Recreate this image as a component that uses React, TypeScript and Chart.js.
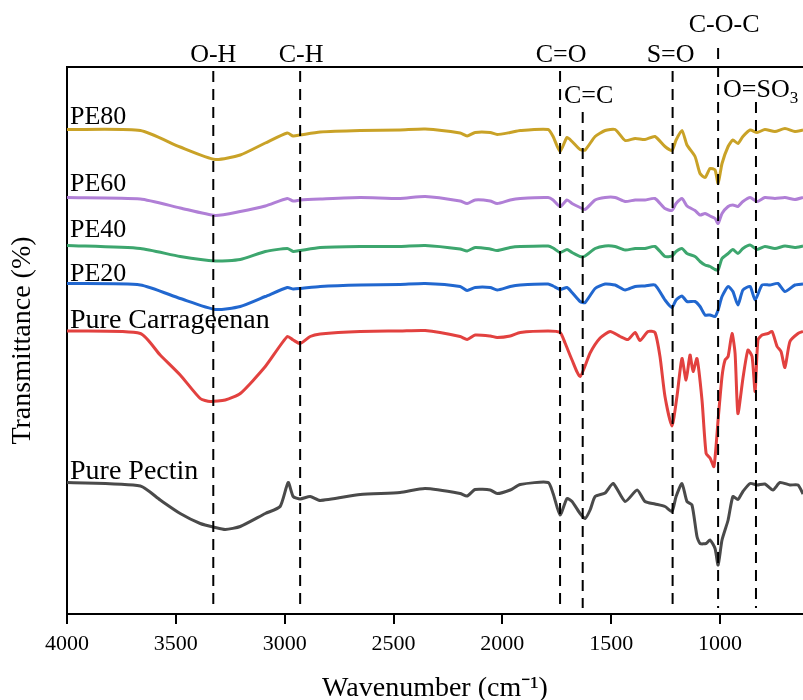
import React, { useEffect, useRef } from "react";
import { Chart, registerables } from "chart.js";

Chart.register(...registerables);

const SERIF = '"Liberation Serif", "Times New Roman", Times, serif';

// ---- data ----
const seriesNames = ["PE80", "PE60", "PE40", "PE20", "Pure Carrageenan", "Pure Pectin"];
const seriesColors = ["#C9A227", "#B07FD6", "#3DA66E", "#2167CF", "#E2413F", "#4A4A4A"];

const commonWavenumber = [
  4000, 3663, 3480, 3319, 3204, 3089, 2988, 2961, 2929, 2837, 2653, 2470, 2355, 2194, 2162, 2125,
  2056, 2024, 1964, 1918, 1790, 1767, 1735, 1703, 1680, 1643, 1620, 1574, 1528, 1482, 1436, 1390,
  1345, 1299, 1253, 1221, 1202, 1175, 1152, 1115, 1092, 1069, 1046, 1023, 1009, 991, 963, 941, 918,
  895, 862, 830, 794, 748, 702, 656, 619,
];

const pe80 = [
  96.9, 96.7, 93.4, 90.9, 91.8, 94.2, 96.2, 95.6, 95.8, 96.4, 96.7, 96.8, 97.0, 96.2, 95.6, 96.3,
  96.3, 95.9, 96.3, 96.7, 96.9, 95.5, 92.5, 95.3, 94.5, 92.9, 92.8, 95.5, 96.7, 96.9, 94.7, 95.1,
  94.9, 95.5, 93.5, 92.7, 94.8, 96.7, 93.8, 91.5, 88.1, 87.3, 89.1, 88.8, 86.1, 90.1, 93.5, 94.8,
  94.1, 95.5, 96.8, 96.3, 96.9, 96.5, 97.1, 96.5, 96.8,
];

const pe60 = [
  83.3, 83.0, 81.2, 79.7, 80.5, 81.6, 83.1, 82.6, 82.8, 83.0, 83.3, 83.1, 83.5, 82.6, 82.1, 82.8,
  82.6, 82.1, 82.8, 83.1, 83.3, 82.8, 81.5, 82.8, 82.1, 81.3, 80.9, 82.8, 83.3, 83.3, 82.5, 82.8,
  82.8, 83.1, 81.1, 80.7, 82.1, 83.1, 81.6, 80.7, 79.8, 80.1, 79.6, 79.1, 78.1, 80.1, 81.5, 81.8,
  81.5, 82.5, 83.3, 82.5, 83.3, 83.1, 83.3, 82.9, 83.3,
];

const pe40 = [
  73.7, 73.1, 71.5, 70.6, 70.9, 72.5, 73.1, 72.5, 72.7, 73.3, 73.5, 73.5, 73.7, 73.0, 72.6, 73.3,
  73.0, 72.7, 73.3, 73.5, 73.6, 73.2, 72.3, 72.9, 72.3, 71.5, 71.6, 73.1, 73.6, 73.5, 72.8, 73.1,
  73.1, 73.5, 71.5, 71.6, 72.5, 73.1, 72.1, 71.5, 70.5, 69.8, 69.5, 68.9, 68.8, 71.1, 72.1, 72.9,
  72.1, 73.1, 73.8, 72.9, 73.5, 73.1, 73.6, 73.3, 73.6,
];

const pe20Wavenumber = [
  4000, 3663, 3480, 3319, 3204, 3089, 2988, 2961, 2929, 2837, 2653, 2470, 2355, 2194, 2162, 2125,
  2056, 2024, 1964, 1918, 1790, 1767, 1735, 1703, 1680, 1643, 1620, 1574, 1528, 1482, 1436, 1390,
  1345, 1299, 1253, 1221, 1202, 1175, 1152, 1115, 1092, 1069, 1046, 1023, 1009, 991, 963, 941, 918,
  895, 862, 839, 807, 771, 734, 702, 656, 619,
];
const pe20 = [
  66.1, 65.8, 63.1, 60.9, 61.5, 63.5, 65.3, 65.0, 65.1, 65.5, 65.8, 65.9, 66.1, 65.5, 64.7, 65.3,
  65.3, 64.8, 65.5, 65.8, 66.0, 65.6, 64.9, 65.3, 64.3, 62.5, 62.3, 65.1, 66.0, 65.8, 64.8, 65.5,
  65.6, 65.8, 62.8, 61.3, 62.8, 63.6, 62.5, 62.5, 61.5, 59.8, 59.8, 59.5, 60.8, 63.5, 65.5, 64.5,
  61.8, 64.8, 65.5, 62.8, 65.8, 65.8, 66.1, 64.5, 65.8, 66.0,
];

const carrageenanWavenumber = [
  4000, 3663, 3572, 3480, 3388, 3342, 3273, 3204, 3089, 2988, 2961, 2929, 2883, 2837, 2653, 2470,
  2355, 2194, 2162, 2125, 2056, 2024, 1964, 1918, 1790, 1735, 1712, 1680, 1643, 1597, 1551, 1505,
  1459, 1423, 1390, 1368, 1331, 1299, 1276, 1253, 1221, 1198, 1175, 1156, 1138, 1124, 1106, 1083,
  1064, 1046, 1028, 1009, 991, 977, 963, 945, 931, 918, 895, 872, 853, 839, 826, 807, 780, 761, 738,
  720, 702, 679, 642, 619,
];
const carrageenan = [
  56.6, 56.1, 51.8, 47.8, 43.1, 42.5, 42.8, 44.1, 49.5, 55.5, 54.8, 54.1, 55.5, 56.0, 56.5, 56.6,
  56.7, 55.5, 54.9, 55.8, 55.6, 55.3, 55.6, 56.3, 56.6, 56.3, 54.2, 50.8, 47.5, 52.2, 55.2, 56.5,
  55.5, 54.9, 56.3, 54.7, 56.5, 56.3, 51.5, 43.5, 37.6, 43.5, 51.1, 46.8, 51.8, 48.5, 51.1, 42.8,
  32.1, 31.2, 29.5, 38.8, 47.5, 50.8, 51.5, 56.1, 52.1, 40.1, 47.1, 52.8, 51.5, 44.5, 54.8, 55.8,
  56.1, 56.5, 53.5, 52.5, 49.3, 54.5, 56.1, 56.5,
];

const pectinWavenumber = [
  4000, 3663, 3572, 3480, 3388, 3319, 3273, 3204, 3089, 3021, 2984, 2961, 2929, 2883, 2837, 2653,
  2470, 2355, 2194, 2162, 2125, 2056, 2024, 1964, 1918, 1790, 1767, 1735, 1703, 1680, 1643, 1620,
  1597, 1574, 1528, 1491, 1436, 1381, 1345, 1299, 1253, 1221, 1202, 1175, 1152, 1129, 1106, 1092,
  1064, 1046, 1023, 1009, 991, 963, 941, 918, 895, 862, 830, 794, 757, 725, 679, 642, 619,
];
const pectin = [
  26.3, 25.6, 22.8, 20.1, 18.1, 17.3, 16.9, 17.5, 20.1, 21.5, 26.3, 23.5, 23.0, 23.5, 22.7, 23.9,
  24.3, 25.1, 24.1, 23.6, 24.9, 24.8, 24.1, 24.8, 25.9, 26.3, 24.1, 19.8, 23.1, 22.5, 20.1, 19.1,
  20.8, 23.5, 24.2, 26.1, 22.5, 24.8, 22.5, 22.0, 21.5, 20.5, 23.5, 26.1, 22.5, 21.8, 15.5, 14.1,
  14.1, 14.8, 13.1, 9.8, 14.8, 18.8, 23.5, 22.9, 24.5, 26.1, 25.8, 26.0, 24.8, 26.3, 25.8, 25.8,
  24.0,
];

const xTickValues = [4000, 3500, 3000, 2500, 2000, 1500, 1000];

const bandLabels = ["O-H", "C-H", "C=O", "C=C", "S=O", "C-O-C", "O=SO"];
const bandSubscripts = ["", "", "", "", "", "", "3"];
const bandWavenumbers = [3328, 2929, 1735, 1631, 1218, 1009, 835];

// ---- styling (positions relative to the plot frame) ----
const bandLineStart = [4, 4, 4, 45, 4, -19, 35];
const bandLabelDx = [0, 1, 1, 6, -2, 6, -33];
const bandLabelBaseline = [-5, -5, -5, 36, -5, -35, 30];
const bandLabelAlign = ["center", "center", "center", "center", "center", "center", "left"];
const seriesLabelGap = [6, 7, 9, 3, 3, 4];
const seriesLabelSize = [26, 26, 26, 26, 28, 28];

const seriesWavenumbers = [
  commonWavenumber,
  commonWavenumber,
  commonWavenumber,
  pe20Wavenumber,
  carrageenanWavenumber,
  pectinWavenumber,
];
const seriesValues = [pe80, pe60, pe40, pe20, carrageenan, pectin];

const App = () => {
  const ref = useRef<HTMLCanvasElement>(null);

  useEffect(() => {
    const canvas = ref.current;
    if (!canvas) return;

    const datasets = seriesNames.map((name, i) => ({
      label: name,
      data: seriesWavenumbers[i].map((x, j) => ({ x, y: seriesValues[i][j] })),
      borderColor: seriesColors[i],
      backgroundColor: seriesColors[i],
      borderWidth: 3,
      pointRadius: 0,
      pointHoverRadius: 0,
      tension: 0.2,
      fill: false,
    }));

    const overlay = {
      id: "ftirOverlay",
      afterDatasetsDraw(chart: any) {
        const { ctx, chartArea: ca, scales } = chart;
        const xs = scales.x;
        const ys = scales.y;
        ctx.save();
        // top frame line
        ctx.strokeStyle = "#000";
        ctx.lineWidth = 2;
        ctx.setLineDash([]);
        ctx.beginPath();
        ctx.moveTo(ca.left - 1, ca.top);
        ctx.lineTo(ca.right, ca.top);
        ctx.stroke();

        // dashed band markers
        ctx.setLineDash([11, 7]);
        bandWavenumbers.forEach((w, i) => {
          const px = xs.getPixelForValue(w);
          ctx.beginPath();
          ctx.moveTo(px, ca.top + bandLineStart[i]);
          ctx.lineTo(px, ca.bottom - 6);
          ctx.stroke();
        });
        ctx.setLineDash([]);

        // band labels
        ctx.fillStyle = "#000";
        ctx.textBaseline = "alphabetic";
        bandLabels.forEach((label, i) => {
          const px = xs.getPixelForValue(bandWavenumbers[i]) + bandLabelDx[i];
          const py = ca.top + bandLabelBaseline[i];
          ctx.font = `26px ${SERIF}`;
          const mainW = ctx.measureText(label).width;
          ctx.font = `17px ${SERIF}`;
          const subW = bandSubscripts[i] ? ctx.measureText(bandSubscripts[i]).width : 0;
          const total = mainW + subW;
          const startX = bandLabelAlign[i] === "left" ? px : px - total / 2;
          ctx.textAlign = "left";
          ctx.font = `26px ${SERIF}`;
          ctx.fillText(label, startX, py);
          if (bandSubscripts[i]) {
            ctx.font = `17px ${SERIF}`;
            ctx.fillText(bandSubscripts[i], startX + mainW, py + 6);
          }
        });

        // series labels
        ctx.textAlign = "left";
        seriesNames.forEach((name, i) => {
          ctx.font = `${seriesLabelSize[i]}px ${SERIF}`;
          const py = ys.getPixelForValue(seriesValues[i][0]) - seriesLabelGap[i];
          ctx.fillText(name, ca.left + 3, py);
        });
        ctx.restore();
      },
    };

    const chart = new Chart(canvas, {
      type: "line",
      data: { datasets },
      options: {
        animation: false,
        responsive: false,
        maintainAspectRatio: false,
        parsing: true,
        layout: { padding: { top: 67, left: 0, right: 0, bottom: 0 } },
        plugins: {
          legend: { display: false },
          tooltip: { enabled: false },
        },
        scales: {
          x: {
            type: "linear",
            reverse: true,
            min: 619,
            max: 4000,
            afterBuildTicks: (s: any) => {
              s.ticks = xTickValues.map((v) => ({ value: v }));
            },
            afterFit: (s: any) => {
              s.height = 86;
            },
            ticks: {
              color: "#000",
              font: { family: SERIF, size: 22 },
              padding: 7,
              maxRotation: 0,
              autoSkip: false,
              callback: (v: any) => String(v),
            },
            grid: {
              display: true,
              drawOnChartArea: false,
              drawTicks: true,
              tickLength: 10,
              color: "#000",
              lineWidth: 2,
            },
            border: { display: true, color: "#000", width: 2 },
            title: {
              display: true,
              text: "Wavenumber (cm⁻¹)",
              color: "#000",
              font: { family: SERIF, size: 28, lineHeight: 0.8 },
              padding: 0,
            },
          },
          y: {
            type: "linear",
            min: 0,
            max: 109.4,
            afterFit: (s: any) => {
              s.width = 67;
            },
            ticks: { display: false },
            grid: { display: false, drawTicks: false },
            border: { display: true, color: "#000", width: 2 },
            title: {
              display: true,
              text: "Transmittance (%)",
              color: "#000",
              font: { family: SERIF, size: 28 },
              padding: { top: 6, bottom: 0 },
            },
          },
        },
      },
      plugins: [overlay],
    } as any);

    return () => chart.destroy();
  }, []);

  return (
    <div style={{ position: "fixed", left: 0, top: 0, width: 803, height: 700, background: "#fff" }}>
      <canvas ref={ref} width={803} height={700} style={{ display: "block" }} />
    </div>
  );
};

export default App;
